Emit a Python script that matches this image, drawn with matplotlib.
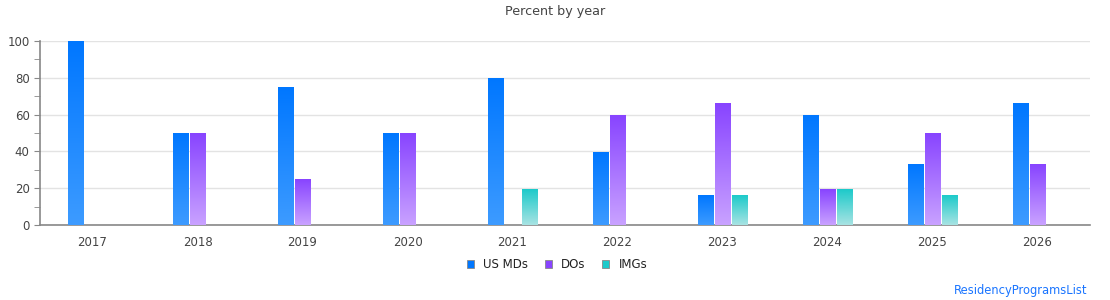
import matplotlib.pyplot as plt
import numpy as np
from matplotlib.colors import LinearSegmentedColormap
from matplotlib.patches import Patch

years = ['2017', '2018', '2019', '2020', '2021', '2022', '2023', '2024', '2025', '2026']
us_mds = [100, 50, 75, 50, 80, 40, 16.7, 60, 33.3, 66.7]
dos = [0, 50, 25, 50, 0, 60, 66.7, 20, 50, 33.3]
imgs = [0, 0, 0, 0, 20, 0, 16.7, 20, 16.7, 0]

series = [
    ('US MDs', us_mds, '#0077ff', '#3d9bff'),
    ('DOs', dos, '#8844ff', '#c9a2ff'),
    ('IMGs', imgs, '#1ccaca', '#a8e3e3'),
]

plt.rcParams['font.family'] = 'DejaVu Sans'
fig = plt.figure(figsize=(11.1, 3), dpi=100)
ax = fig.add_axes([40 / 1110, 0.25, 1050 / 1110, 0.6133])

x = np.arange(len(years))
width = 0.150
step = 0.162
grad = np.linspace(1, 0, 256).reshape(-1, 1)

for i, (name, vals, top, bottom) in enumerate(series):
    cmap = LinearSegmentedColormap.from_list(name, [bottom, top])
    for xi, v in zip(x, vals):
        if v <= 0:
            continue
        x0 = xi + (i - 1) * step - width / 2
        ax.imshow(grad, cmap=cmap, extent=[x0, x0 + width, 0, v - 0.5],
                  aspect='auto', zorder=3, vmin=0, vmax=1)

ax.set_xlim(-0.5, len(years) - 0.5)
ax.set_ylim(0, 100)
ax.set_xticks(x)
ax.set_xticklabels(years)
ax.set_yticks(range(0, 101, 20))
ax.set_yticks(range(10, 100, 20), minor=True)
ax.tick_params(axis='x', length=0, pad=8, labelsize=8.5, colors='#444444')
ax.tick_params(axis='y', which='both', length=4, labelsize=8.5, colors='#444444')
ax.tick_params(axis='y', which='both', color='#888888')
ax.grid(axis='y', color='#e3e3e3', linewidth=1, zorder=0)
ax.set_axisbelow(True)
for s in ['top', 'right']:
    ax.spines[s].set_visible(False)
for s in ['left', 'bottom']:
    ax.spines[s].set_color('#888888')
    ax.spines[s].set_linewidth(1.2)

fig.text(0.5, 0.96, 'Percent by year', ha='center', va='center', fontsize=9.2, color='#444444')

handles = [Patch(facecolor=top, edgecolor='#888888', linewidth=0.6) for _, _, top, _ in series]
fig.legend(handles, [s[0] for s in series], loc='center', bbox_to_anchor=(0.502, 0.117),
           ncol=3, frameon=False, fontsize=8.5, handlelength=0.6, handleheight=0.6,
           columnspacing=1.4, handletextpad=0.8, labelcolor='#222222')

fig.text(1087 / 1110, 0.033, 'ResidencyProgramsList', ha='right', va='center',
         fontsize=8.3, color='#1a75ff')

fig.savefig('out.png', dpi=100)
